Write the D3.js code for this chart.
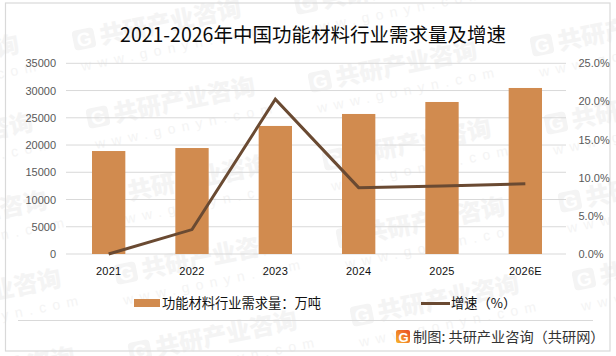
<!DOCTYPE html>
<html><head><meta charset="utf-8">
<script src="https://cdn.jsdelivr.net/npm/d3@7"></script>
<style>html,body{margin:0;padding:0;background:#fff}svg{display:block}text{font-family:"Noto Sans CJK SC","Liberation Sans",sans-serif}</style>
</head><body><svg id="c" width="616" height="356"></svg>
<script>
const categories=["2021","2022","2023","2024","2025","2026E"];
const demand=[18900,19450,23500,25700,27900,30470];
const growth=[0,3.2,20.3,8.7,8.9,9.2];
const leftTicks=[0,5000,10000,15000,20000,25000,30000,35000];
const rightTicks=[0,5,10,15,20,25];
const titleText="2021-2026年中国功能材料行业需求量及增速";
const legendBar="功能材料行业需求量：万吨";
const legendLine="增速（%）";
const sourceText="制图: 共研产业咨询（共研网）";
const wmName="共研产业咨询";
const wmSite="www.gonyn.com";
const wmCols=[-1,0,1,2];
const wmRows=[0,1,2,3,4];

const svg=d3.select("#c");
const W={l:67,r:567,t:63.3,b:254};
const x=d3.scaleBand().domain(categories).range([W.l,W.r]).paddingInner(0.6).paddingOuter(0.3);
const yL=d3.scaleLinear().domain([0,35000]).range([W.b,W.t]);
const yR=d3.scaleLinear().domain([0,25]).range([W.b,W.t]);
const cx=d=>x(d)+x.bandwidth()/2;

// watermarks
const wm=svg.append("g");
const wmColor="#f4f4f4";
wmCols.forEach(c=>wmRows.forEach(r=>{
  const a=75+222*c+14*r, b=50-36*c+78*r;
  if(b<-15) return;
  const g=wm.append("g").attr("transform",`translate(${a},${b}) rotate(-11.5)`);
  g.append("rect").attr("x",0).attr("y",-19).attr("width",22).attr("height",20).attr("rx",4).attr("fill",wmColor);
  g.append("text").attr("x",11).attr("y",-2).attr("text-anchor","middle").attr("font-size",19).attr("font-weight",700).attr("fill","#fff").style("font-family","'Liberation Sans',sans-serif").text("G");
  g.append("text").attr("x",27).attr("y",0).attr("font-size",24).attr("font-weight",900).attr("fill",wmColor).text(wmName);
  g.append("text").attr("x",3).attr("y",22).attr("font-size",14).attr("fill",wmColor).attr("letter-spacing",6.5).style("font-family","'Liberation Sans',sans-serif").text(wmSite);
}));

// border
svg.append("rect").attr("x",5.5).attr("y",3).attr("width",604.5).attr("height",348).attr("fill","none").attr("stroke","#d9d9d9").attr("stroke-width",1.2);

// grid
svg.append("g").selectAll("line").data(leftTicks).join("line")
  .attr("x1",W.l-1).attr("x2",W.r-1).attr("y1",d=>yL(d)).attr("y2",d=>yL(d))
  .attr("stroke","#d9d9d9").attr("stroke-width",1);

// bars
svg.append("g").selectAll("rect").data(demand).join("rect")
  .attr("x",(d,i)=>x(categories[i])).attr("width",x.bandwidth())
  .attr("y",d=>yL(d)).attr("height",d=>W.b-yL(d)).attr("fill","#d18b4f");

// line
svg.append("path").datum(growth)
  .attr("d",d3.line().x((d,i)=>cx(categories[i])).y(d=>yR(d)))
  .attr("fill","none").attr("stroke","#6a4a32").attr("stroke-width",3);

// axes
const axL=d3.axisLeft(yL).tickValues(leftTicks).tickSize(0).tickPadding(0).tickFormat(d3.format("d"));
const gL=svg.append("g").attr("transform",`translate(56,0)`).call(axL);
const axR=d3.axisRight(yR).tickValues(rightTicks).tickSize(0).tickPadding(0).tickFormat(d=>d.toFixed(1)+"%");
const gR=svg.append("g").attr("transform",`translate(578.5,0)`).call(axR);
const axB=d3.axisBottom(x).tickSize(0).tickPadding(0);
const gB=svg.append("g").attr("transform",`translate(0,267)`).call(axB);
[gL,gR,gB].forEach(g=>{g.select(".domain").remove();});
gL.selectAll("text").attr("font-size",11).attr("fill","#595959").style("font-family","'Liberation Sans',sans-serif");
gR.selectAll("text").attr("font-size",11).attr("fill","#595959").style("font-family","'Liberation Sans',sans-serif");
gB.selectAll("text").attr("font-size",11).attr("fill","#111").attr("letter-spacing",0.2).style("font-family","'Liberation Sans',sans-serif");

// title
svg.append("text").attr("x",313).attr("y",42).attr("text-anchor","middle").attr("font-size",19.5).attr("font-weight",400).attr("fill","#0a0a0a").text(titleText);

// legend
svg.append("rect").attr("x",134).attr("y",299).attr("width",26).attr("height",8).attr("fill","#d18b4f");
svg.append("text").attr("x",162).attr("y",308).attr("font-size",13.25).attr("fill","#111").text(legendBar);
svg.append("line").attr("x1",421).attr("x2",450).attr("y1",303.5).attr("y2",303.5).attr("stroke","#6a4a32").attr("stroke-width",3);
svg.append("text").attr("x",451).attr("y",308).attr("font-size",13.25).attr("fill","#111").text(legendLine);

// footer
svg.append("line").attr("x1",18).attr("x2",593).attr("y1",320.5).attr("y2",320.5).attr("stroke","#d9d9d9").attr("stroke-width",1);
const defs=svg.append("defs");
const lg=defs.append("linearGradient").attr("id","lg").attr("x1",0).attr("y1",1).attr("x2",1).attr("y2",0);
lg.append("stop").attr("offset",0).attr("stop-color","#f7b52c");
lg.append("stop").attr("offset",1).attr("stop-color","#ea4a25");
const logo=svg.append("g").attr("transform","translate(396,330)");
logo.append("rect").attr("width",14).attr("height",13).attr("rx",2).attr("fill","url(#lg)");
logo.append("text").attr("x",7.5).attr("y",11.5).attr("text-anchor","middle").attr("font-size",13).attr("font-weight",700).attr("fill","#fff").style("font-family","'Liberation Sans',sans-serif").text("G");
svg.append("text").attr("x",413).attr("y",342).attr("font-size",14.2).attr("fill","#333").text(sourceText);
</script></body></html>
